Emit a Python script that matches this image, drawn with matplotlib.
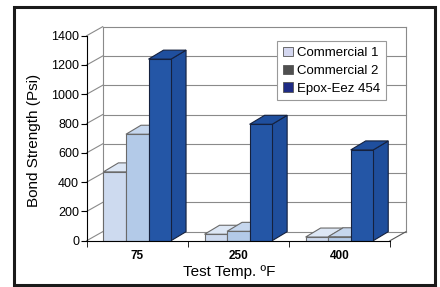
import numpy as np
import matplotlib.pyplot as plt
from matplotlib.patches import Polygon, Patch, Rectangle

plt.rcParams['font.family'] = ['Liberation Sans', 'DejaVu Sans']

# data
temps = ['75', '250', '400']
series = ['Commercial 1', 'Commercial 2', 'Epox-Eez 454']
commercial_1 = [470, 44, 25]
commercial_2 = [727, 64, 27]
epox_eez = [1240, 795, 620]
y_ticks = [0, 200, 400, 600, 800, 1000, 1200, 1400]

values = [commercial_1, commercial_2, epox_eez]
front_colors = ['#cddaef', '#b3cae8', '#2456a6']
top_colors = ['#dde7f5', '#c6d7ee', '#1f4f9e']
side_colors = ['#b8c8e2', '#9fb8dc', '#1f4e9c']
edge_colors = ['#6a6a6a', '#6a6a6a', '#15213e']
legend_colors = ['#d3d6ef', '#4f4f4f', '#1e2b84']

fig = plt.figure(figsize=(4.4, 2.87), dpi=100)
ax = fig.add_axes([0.197, 0.1613, 0.6893, 0.7143])
ax.set_xlim(-0.5, 2.5)
ax.set_ylim(0, 1400)

# 3d depth, in data units (walls and bars)
wall_dx, wall_dy = 16 / 101.1, 9 / 0.1464
bar_dx, bar_dy = 15 / 101.1, 9 / 0.1464
bar_w = 0.223
grid_c = '#8a8a8a'

x0, x1 = ax.get_xlim()
for v in y_ticks:
    ax.plot([x0, x0 + wall_dx], [v, v + wall_dy], color=grid_c, lw=0.8,
            clip_on=False, zorder=1)
    ax.plot([x0 + wall_dx, x1 + wall_dx], [v + wall_dy, v + wall_dy],
            color=grid_c, lw=0.8, clip_on=False, zorder=1)
ax.plot([x0 + wall_dx, x0 + wall_dx], [wall_dy, 1400 + wall_dy], color=grid_c,
        lw=0.8, clip_on=False, zorder=1)
ax.plot([x1 + wall_dx, x1 + wall_dx], [wall_dy, 1400 + wall_dy], color=grid_c,
        lw=0.8, clip_on=False, zorder=1)
ax.plot([x1, x1 + wall_dx], [0, wall_dy], color='#555555', lw=0.8,
        clip_on=False, zorder=1)

x = np.arange(len(temps))
for j, vals in enumerate(values):
    left = x + (j - 1.5) * bar_w
    ax.bar(left, vals, width=bar_w, align='edge', color=front_colors[j],
           edgecolor=edge_colors[j], lw=0.8, zorder=3 + 2 * j)
    for xl, h in zip(left, vals):
        xr = xl + bar_w
        top = Polygon([(xl, h), (xr, h), (xr + bar_dx, h + bar_dy),
                       (xl + bar_dx, h + bar_dy)], closed=True,
                      facecolor=top_colors[j], edgecolor=edge_colors[j],
                      lw=0.8, clip_on=False, zorder=2 + 2 * j)
        side = Polygon([(xr, 0), (xr, h), (xr + bar_dx, h + bar_dy),
                        (xr + bar_dx, bar_dy)], closed=True,
                       facecolor=side_colors[j], edgecolor=edge_colors[j],
                       lw=0.8, clip_on=False, zorder=2 + 2 * j)
        ax.add_patch(side)
        ax.add_patch(top)

for s in ['top', 'right']:
    ax.spines[s].set_visible(False)
ax.spines['left'].set_zorder(10)
ax.spines['bottom'].set_zorder(10)

ax.set_yticks(y_ticks)
ax.tick_params(axis='y', length=4, pad=1.5, labelsize=9)
ax.set_xticks(x)
ax.set_xticklabels(temps, fontweight='bold', fontsize=8.5)
ax.set_xticks(np.arange(-0.5, 3, 1), minor=True)
ax.tick_params(axis='x', which='major', length=0, pad=6.5)
ax.tick_params(axis='x', which='minor', length=4)

ax.set_xlabel('Test Temp. ºF', fontsize=11)
ax.xaxis.set_label_coords(0.469, -0.118)
ax.set_ylabel('Bond Strength (Psi)', fontsize=11)
ax.yaxis.set_label_coords(-0.152, 0.49)

handles = [Patch(facecolor=c, edgecolor='#555555', lw=0.6) for c in legend_colors]
leg = ax.legend(handles, series, loc='upper left', bbox_to_anchor=(0.627, 0.975),
                fontsize=9.5, frameon=True, fancybox=False, framealpha=1,
                edgecolor='#999999', labelspacing=0.42, handlelength=0.75,
                handleheight=0.7, handletextpad=0.3, borderpad=0.45,
                borderaxespad=0)
leg.set_zorder(20)
leg.get_frame().set_linewidth(0.8)

fig.patches.append(Rectangle((14 / 440, 1 - 285 / 287), 421 / 440, 278.5 / 287,
                             transform=fig.transFigure, fill=False,
                             edgecolor='#1a1a1a', lw=2.2))

fig.savefig('out.png', dpi=100)
